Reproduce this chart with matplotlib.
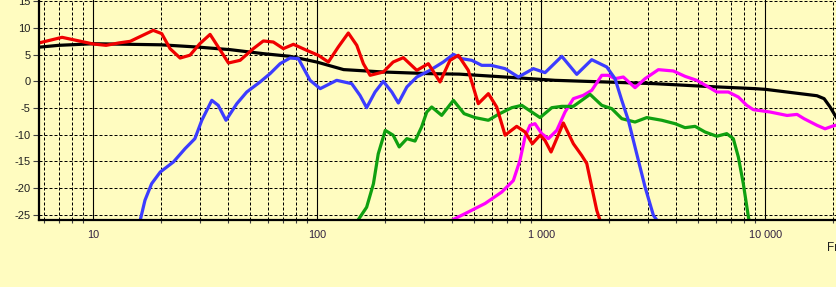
import matplotlib
matplotlib.use("Agg")
import matplotlib.pyplot as plt
from matplotlib.ticker import FixedLocator, NullFormatter

plt.rcParams['font.family'] = ['Liberation Sans', 'DejaVu Sans']

# ---------------- data ----------------
black_f = [5.72, 7, 10, 14.6, 20, 28.9, 40.8, 57.4, 75.5, 99.4, 131, 197, 318, 430, 689, 1151,
           1924, 3218, 5381, 8995, 10000, 17000, 18300, 19450, 20900]
black_db = [6.4, 6.75, 7.05, 6.94, 6.85, 6.44, 5.94, 5.19, 4.69, 3.62, 2.2, 1.75, 1.44, 1.35, 0.81,
            0.19, -0.12, -0.44, -0.94, -1.37, -1.5, -2.7, -3.25, -4.8, -7.0]

red_f = [5.72, 7.25, 10, 11.4, 13.0, 14.6, 18.5, 20.2, 22, 24.4, 27.0, 29.9, 33.2, 36.1, 40.1,
         45.2, 51.8, 57.4, 63.6, 70.5, 78.2, 89.7, 101, 112, 124, 137.5, 150, 160.5, 172, 197,
         218, 242, 278, 313, 353, 391, 426, 472, 523, 580, 632, 689, 776, 846, 912, 987, 1039,
         1105, 1254, 1390, 1515, 1595, 1679, 1768, 1828]
red_db = [7.2, 8.25, 7.0, 6.75, 7.2, 7.5, 9.56, 8.94, 6.13, 4.37, 4.9, 7.07, 8.8, 6.44, 3.44,
          3.94, 6.13, 7.57, 7.37, 6.13, 6.94, 5.81, 4.88, 3.62, 6.44, 9.06, 6.75, 3.31, 1.13, 1.75,
          3.62, 4.44, 2.06, 3.31, -0.12, 3.94, 4.88, 2.06, -4.19, -2.31, -4.81, -10.1, -8.44, -9.5,
          -11.7, -10.1, -11.1, -13.25, -7.81, -11.7, -13.9, -15.4, -19.8, -24.2, -26.06]

blue_f = [16.2, 17.0, 18.2, 19.9, 22.8, 25.7, 28.4, 30.5, 33.8, 36.1, 39.1, 43.7, 48.4, 55.5,
          61.5, 68.2, 75.5, 82.3, 92.8, 103, 122, 142.4, 155, 166, 181, 197, 215, 230, 251, 278,
          318, 365, 405, 441, 489, 542, 596, 689, 790, 921, 1039, 1234, 1439, 1679, 1959, 2133,
          2286, 2446, 2666, 2904, 3163, 3275]
blue_db = [-26, -22.3, -19.2, -17, -15.1, -12.6, -10.75, -7.3, -3.56, -4.5, -7.3, -4.19, -2.0, -0.12,
           1.44, 3.31, 4.37, 4.25, 0.19, -1.37, 0.19, -0.44, -2.63, -4.94, -2.0, 0.0, -2.0, -4.06,
           -1.06, 0.81, 2.06, 3.62, 5.06, 4.25, 3.94, 3.0, 3.0, 2.38, 0.81, 2.38, 1.63, 4.69, 1.31,
           4.06, 2.69, 0.5, -3.56, -7.3, -13.6, -19.8, -25.1, -26]

green_f = [152, 166, 178, 187, 201, 218, 232, 251, 273, 292, 308, 324, 359, 405, 452, 506, 580,
           643, 738, 818, 906, 987, 1113, 1234, 1390, 1650, 1861, 2062, 2286, 2620, 2954, 3448,
           3954, 4380, 4856, 5381, 6069, 6725, 7195, 7578, 7975, 8400, 8455]
green_db = [-26, -23.6, -19.2, -13.6, -9.19, -10.1, -12.3, -10.75, -11.2, -8.56, -5.75, -4.81,
            -6.38, -3.56, -6.06, -6.8, -7.3, -6.19, -4.94, -4.5, -5.75, -6.8, -4.94, -4.69, -4.69,
            -2.44, -4.5, -5.12, -7.0, -7.63, -6.8, -7.3, -7.94, -8.69, -8.44, -9.5, -10.3, -9.81,
            -10.75, -14.2, -19.2, -25.4, -26]

mag_f = [400, 472, 561, 666, 750, 803, 846, 890, 937, 1004, 1075, 1172, 1276, 1390, 1539, 1679,
         1861, 1991, 2133, 2323, 2620, 2904, 3330, 3885, 4380, 4941, 5567, 6069, 6836, 7578,
         8260, 8841, 10496, 12502, 13852, 14883, 17011, 18475, 20261, 20900]
mag_db = [-26, -24.5, -22.9, -20.75, -18.6, -14.8, -10.4, -8.25, -7.94, -9.81, -10.75, -9.19,
          -5.75, -3.25, -2.63, -1.69, 1.13, 1.13, 0.5, 0.81, -1.19, 0.5, 2.19, 1.94, 0.94, 0.19,
          -1.06, -2.0, -2.0, -2.94, -4.5, -5.31, -5.75, -6.4, -6.2, -7.0, -8.25, -8.9, -8.3, -8.2]

y_ticks = [-25, -20, -15, -10, -5, 0, 5, 10, 15]
x_major = [10, 100, 1000, 10000]
x_labels = ["10", "100", "1 000", "10 000"]
x_minor = [m * d for d in [1, 10, 100, 1000, 10000] for m in range(2, 10)]
x_minor = [v for v in x_minor if 5.72 < v < 20900]
x_title = "Frequency"

# ---------------- figure ----------------
W, H = 837, 287
bg = '#FFFCC0'
fig = plt.figure(figsize=(W / 100, H / 100), dpi=100, facecolor=bg)
ax = fig.add_axes([39 / W, 67 / H, (W - 39) / W, 220 / H], facecolor=bg)
ax.set_xscale('log')
ax.set_xlim(5.72, 20890)
ax.set_ylim(-26, 15.25)

# grid
for v in x_minor:
    ax.axvline(v, color='black', lw=0.72, dashes=(3, 2), zorder=1)
for v in x_major:
    ax.axvline(v, color='black', lw=0.8, zorder=1)
for v in y_ticks:
    ax.axhline(v, color='black', lw=0.72, dashes=(3, 2), zorder=1)

lw = 2.3
kw = dict(lw=lw, solid_joinstyle='round', solid_capstyle='butt', clip_on=True)
ax.plot(black_f, black_db, color='black', zorder=3, **kw)
ax.plot(mag_f, mag_db, color='#FF00FF', zorder=4, **kw)
ax.plot(green_f, green_db, color='#10A010', zorder=5, **kw)
ax.plot(blue_f, blue_db, color='#3C3CFF', zorder=6, **kw)
ax.plot(red_f, red_db, color='#F00000', zorder=7, **kw)

# axes styling
for s in ['top', 'right']:
    ax.spines[s].set_visible(False)
for s in ['left', 'bottom']:
    ax.spines[s].set_linewidth(1.6)
    ax.spines[s].set_color('black')
    ax.spines[s].set_zorder(8)

ax.set_yticks(y_ticks)
ax.set_yticklabels([str(v) for v in y_ticks])
ax.tick_params(axis='y', length=4.5, width=0.8, color='#404040', pad=1.5,
               labelsize=8, labelcolor='#202020')
ax.xaxis.set_major_locator(FixedLocator(x_major))
ax.set_xticklabels(x_labels)
ax.xaxis.set_minor_locator(FixedLocator(x_minor))
ax.xaxis.set_minor_formatter(NullFormatter())
ax.tick_params(axis='x', which='major', length=0, pad=7, labelsize=7.8,
               labelcolor='#302040')
ax.tick_params(axis='x', which='minor', length=2.5, width=0.8, color='#404040')

fig.text(827 / W, 1 - 248 / H, x_title, fontsize=8.5, ha='left', va='center',
         color='#202020')

fig.savefig('out.png', dpi=100, facecolor=bg)
